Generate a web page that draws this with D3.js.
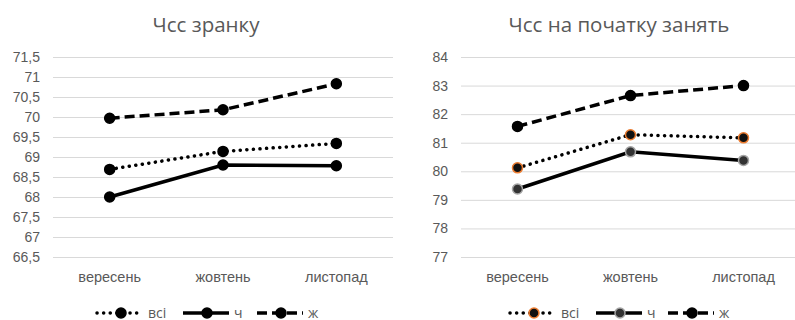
<!DOCTYPE html>
<html>
<head>
<meta charset="utf-8">
<script src="https://cdn.jsdelivr.net/npm/d3@7"></script>
<style>
  body { margin: 0; background: #fff; }
  svg { font-family: "Open Sans", "Noto Sans", sans-serif; }
</style>
</head>
<body>
<svg id="chart" width="795" height="320"></svg>
<script>
const months = ["вересень", "жовтень", "листопад"];
const seriesNames = ["всі", "ч", "ж"];

// Чсс зранку
const restAll = [68.69, 69.14, 69.34];
const restM = [68.0, 68.8, 68.78];
const restF = [69.97, 70.18, 70.83];
const restTicks = [66.5, 67, 67.5, 68, 68.5, 69, 69.5, 70, 70.5, 71, 71.5];

// Чсс на початку занять
const startAll = [80.12, 81.28, 81.17];
const startM = [79.38, 80.68, 80.38];
const startF = [81.57, 82.65, 83.0];
const startTicks = [77, 78, 79, 80, 81, 82, 83, 84];

const svg = d3.select("#chart");
const fmt = v => String(v).replace(".", ",");

const styles = {
  "всі": {dash: "0.1 6.5", cap: "round", w: 3.5},
  "ч": {dash: null, cap: "butt", w: 3.5},
  "ж": {dash: "10 5", cap: "butt", w: 3.5}
};

function drawChart(opt) {
  const g = svg.append("g");
  const x = d3.scaleBand().domain(months).range([opt.left, opt.right]);
  const y = d3.scaleLinear().domain([opt.ticks[0], opt.ticks[opt.ticks.length - 1]]).range([257, 57]);

  g.append("text")
    .attr("x", opt.titleX).attr("y", 32)
    .attr("text-anchor", "middle")
    .attr("font-size", 20.5)
    .attr("fill", "#595959")
    .text(opt.title);

  // gridlines + y labels
  const yAxis = g.append("g")
    .attr("transform", `translate(${opt.left},0)`)
    .call(d3.axisLeft(y).tickValues(opt.ticks).tickFormat(fmt).tickSize(-(opt.right - opt.left)).tickPadding(13));
  yAxis.select(".domain").remove();
  yAxis.selectAll(".tick line").attr("stroke", "#d9d9d9").attr("stroke-width", 1);
  yAxis.selectAll(".tick text").attr("fill", "#595959").attr("font-size", 14);

  // x labels
  const xAxis = g.append("g")
    .attr("transform", "translate(0,257)")
    .call(d3.axisBottom(x).tickSize(0).tickPadding(15));
  xAxis.select(".domain").remove();
  xAxis.selectAll(".tick text").attr("fill", "#595959").attr("font-size", 14.5);

  const line = d3.line().x((d, i) => x(months[i]) + x.bandwidth() / 2).y(d => y(d));

  opt.series.forEach((s, k) => {
    const st = styles[seriesNames[k]];
    g.append("path")
      .datum(s)
      .attr("d", line)
      .attr("fill", "none")
      .attr("stroke", "#000")
      .attr("stroke-width", st.w)
      .attr("stroke-linecap", st.cap)
      .attr("stroke-dasharray", st.dash);
    g.selectAll(null)
      .data(s)
      .join("circle")
      .attr("cx", (d, i) => x(months[i]) + x.bandwidth() / 2)
      .attr("cy", d => y(d))
      .attr("r", 5)
      .attr("fill", opt.markerFill[k])
      .attr("stroke", opt.markerStroke[k])
      .attr("stroke-width", 1.5);
  });

  // legend
  const lg = g.append("g").attr("transform", "translate(0,313)");
  opt.legendX.forEach((lx, k) => {
    const st = styles[seriesNames[k]];
    lg.append("line")
      .attr("x1", lx).attr("x2", lx + 46)
      .attr("stroke", "#000").attr("stroke-width", st.w)
      .attr("stroke-linecap", st.cap)
      .attr("stroke-dasharray", st.dash);
    lg.append("circle")
      .attr("cx", lx + 24).attr("r", 5)
      .attr("fill", opt.markerFill[k])
      .attr("stroke", opt.markerStroke[k])
      .attr("stroke-width", 1.5);
    lg.append("text")
      .attr("x", lx + 51).attr("y", 4.5)
      .attr("font-size", 14)
      .attr("fill", "#595959")
      .text(seriesNames[k]);
  });
}

drawChart({
  title: "Чсс зранку", titleX: 206, left: 53, right: 393,
  ticks: restTicks, series: [restAll, restM, restF],
  markerFill: ["#000", "#000", "#000"], markerStroke: ["#000", "#000", "#000"],
  legendX: [97, 183, 257]
});

drawChart({
  title: "Чсс на початку занять", titleX: 619, left: 461, right: 800,
  ticks: startTicks, series: [startAll, startM, startF],
  markerFill: ["#111", "#333", "#000"], markerStroke: ["#ED7D31", "#A5A5A5", "#000"],
  legendX: [510, 596, 668]
});
</script>
</body>
</html>
